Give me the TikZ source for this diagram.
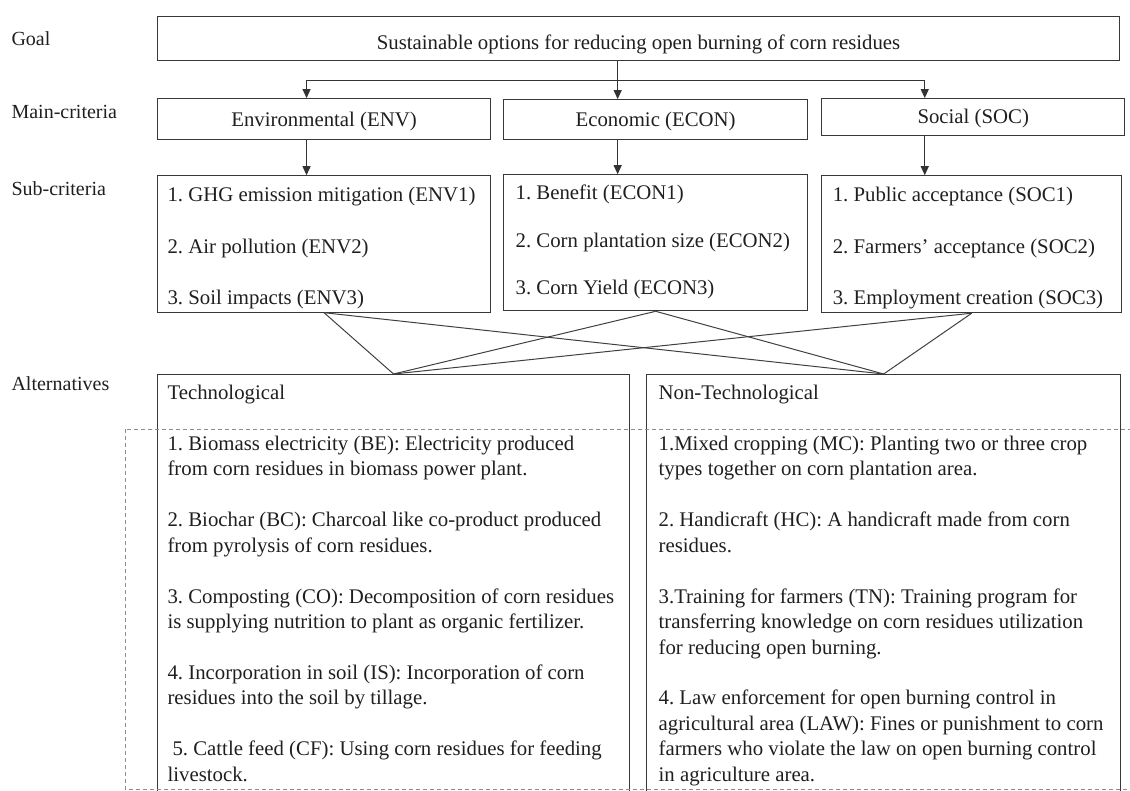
\documentclass[tikz,border=0pt]{standalone}
\usepackage{fontspec}
\setmainfont{Liberation Serif}
\usetikzlibrary{arrows.meta, positioning}
\frenchspacing
\newcommand{\topsp}[1]{\rule{0pt}{#1}}
\newcommand{\botsp}[1]{\rule[-#1]{0pt}{#1}}

\begin{document}
\begin{tikzpicture}[
        x = 1pt, y = -1pt,
        > = {Triangle[length=9pt, width=8pt]}, % arrow head style
        line width = 1.1pt, % line style
        font = \fontsize{20.8}{25.45}\selectfont,
        every node/.style = {text=black!88},
        box/.style = {draw=black!78, inner ysep=0pt, inner xsep=10pt},
        listbox/.style = {box, align=flush left},
        tag/.style = {inner sep=0pt, anchor=base west, font=\fontsize{20}{24}\selectfont},
        link/.style = {draw=black!75, line width=1pt},
        dashframe/.style = {draw=black!45, line width=0.9pt, dash pattern=on 4pt off 3pt}
    ]
        \useasboundingbox (0,0) rectangle (1130,790);

        % level names
        \node[tag] (lgoal) at (11,45) {Goal};
        \node[tag] (lmain) at (11,118) {Main-criteria};
        \node[tag] (lsub) at (11,195) {Sub-criteria};
        \node[tag] (lalt) at (11,390) {Alternatives};

        % goal and main criteria
        \node[box, anchor=north west, minimum width=962pt,
            text height=33pt, text depth=11pt] (goal) at (157,16)
            {Sustainable options for reducing open burning of corn residues};
        \node[box, below=37pt of goal.south west, anchor=north west,
            minimum width=333pt, text height=28pt, text depth=13pt] (env)
            {Environmental (ENV)};
        \node[box, right=12pt of env.north east, anchor=north west, yshift=-1pt,
            minimum width=304pt, text height=27pt, text depth=13pt] (econ)
            {Economic (ECON)};
        \node[box, right=13pt of econ.north east, anchor=north west, yshift=1pt,
            minimum width=303pt, text height=25pt, text depth=12pt] (soc)
            {Social (SOC)};

        % sub criteria
        \node[listbox, text width=313pt, below=35pt of env.south west,
            anchor=north west] (envsub) {
        \topsp{26pt}1. GHG emission mitigation (ENV1)\\[26pt]
        2. Air pollution (ENV2)\\[26pt]
        3. Soil impacts (ENV3)\botsp{7.5pt}};
        \node[listbox, inner xsep=12pt, text width=280pt, below=34pt of econ.south west,
            anchor=north west] (econsub) {
        \topsp{25pt}1. Benefit (ECON1)\\[22.05pt]
        2. Corn plantation size (ECON2)\\[22.05pt]
        3. Corn Yield (ECON3)\botsp{16pt}};
        \node[listbox, inner xsep=11pt, text width=278pt, below=39pt of soc.south west,
            anchor=north west] (socsub) {
        \topsp{26pt}1. Public acceptance (SOC1)\\[26pt]
        2. Farmers’ acceptance (SOC2)\\[26pt]
        3. Employment creation (SOC3)\botsp{8pt}};

        % alternatives
        \node[listbox, text width=452pt, anchor=north west] (tech) at (157,374) {
        \topsp{25pt}Technological\\[25.45pt]
        1. Biomass electricity (BE): Electricity produced\\
        from corn residues in biomass power plant.\\[25.45pt]
        2. Biochar (BC): Charcoal like co-product produced\\
        from pyrolysis of corn residues.\\[25.45pt]
        3. Composting (CO): Decomposition of corn residues\\
        is supplying nutrition to plant as organic fertilizer.\\[25.45pt]
        4. Incorporation in soil (IS): Incorporation of corn\\
        residues into the soil by tillage.\\[25.45pt]
        \hspace*{5pt}5. Cattle feed (CF): Using corn residues for feeding\\
        livestock.\botsp{30pt}};
        \node[listbox, inner xsep=12pt, text width=450pt, right=16pt of tech.north east,
            anchor=north west] (nontech) {
        \topsp{25pt}Non-Technological\\[25.45pt]
        1.Mixed cropping (MC): Planting two or three crop\\
        types together on corn plantation area.\\[25.45pt]
        2. Handicraft (HC): A handicraft made from corn\\
        residues.\\[25.45pt]
        3.Training for farmers (TN): Training program for\\
        transferring knowledge on corn residues utilization\\
        for reducing open burning.\\[25.45pt]
        4. Law enforcement for open burning control in\\
        agricultural area (LAW): Fines or punishment to corn\\
        farmers who violate the law on open burning control\\
        in agriculture area.\botsp{30pt}};

        % arrows
        \coordinate (envin) at ([xshift=-17.5pt]env.north);
        \coordinate (econin) at ([xshift=-38pt]econ.north);
        \coordinate (socin) at ([xshift=-48.5pt]soc.north);
        \coordinate (split) at ([yshift=18pt]envin);

        \draw[draw=black!80, <->] (envin) |- (split -| socin) -- (socin);
        \draw[draw=black!80, ->] (goal.south -| econin) -- (econin);
        \draw[draw=black!80, ->] (env.south -| envin) -- (envsub.north -| envin);
        \draw[draw=black!80, ->] (econ.south -| econin) -- (econsub.north -| econin);
        \draw[draw=black!80, ->] (soc.south -| socin) -- (socsub.north -| socin);

        % every sub criteria box to every alternative
        \foreach \s in {envsub,econsub,socsub} {
            \foreach \a in {tech,nontech} {
                \draw[link] (\s.south) -- (\a.north);
            }
        }

        \draw[dashframe] (125,429) rectangle (1140,789);
    \end{tikzpicture}
\end{document}
